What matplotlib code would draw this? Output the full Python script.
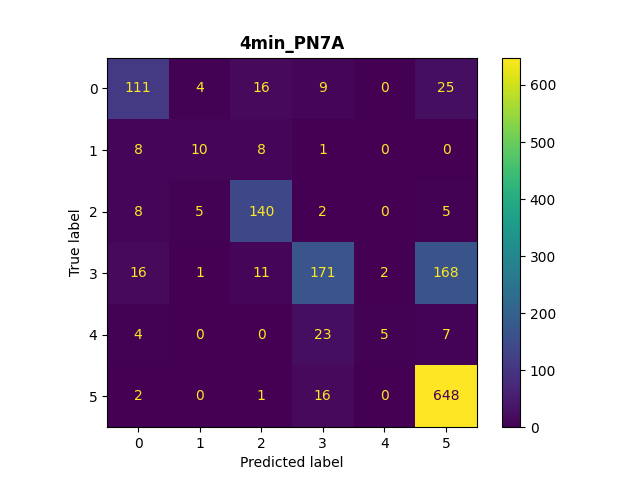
import numpy as np
import matplotlib
matplotlib.use("Agg")
import matplotlib.pyplot as plt

labels = ["0", "1", "2", "3", "4", "5"]
cm = np.array([
    [111, 4, 16, 9, 0, 25],
    [8, 10, 8, 1, 0, 0],
    [8, 5, 140, 2, 0, 5],
    [16, 1, 11, 171, 2, 168],
    [4, 0, 0, 23, 5, 7],
    [2, 0, 1, 16, 0, 648],
])

fig, ax = plt.subplots(figsize=(6.4, 4.8), dpi=100)
cmap = plt.get_cmap("viridis")
im = ax.imshow(cm, interpolation="nearest", cmap=cmap)
thresh = (cm.max() + cm.min()) / 2.0
for i in range(cm.shape[0]):
    for j in range(cm.shape[1]):
        color = cmap(0) if cm[i, j] > thresh else cmap(1.0)
        ax.text(j, i, str(cm[i, j]), ha="center", va="center", color=color)
fig.colorbar(im, ax=ax)
ax.set_xticks(range(len(labels)), labels)
ax.set_yticks(range(len(labels)), labels)
ax.set_xlabel("Predicted label")
ax.set_ylabel("True label")
ax.set_title("4min_PN7A", fontweight="bold")
fig.savefig("out.png")
